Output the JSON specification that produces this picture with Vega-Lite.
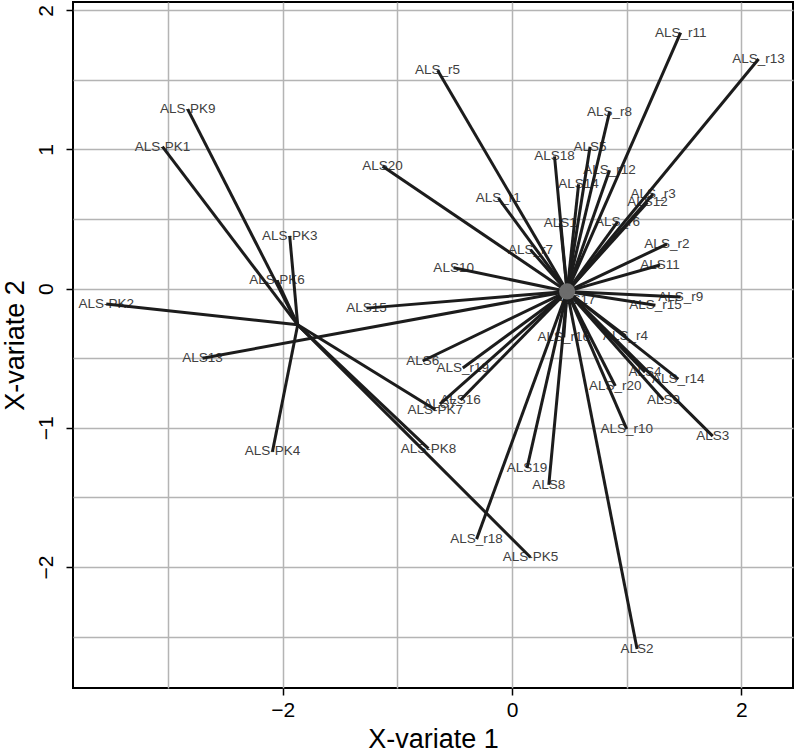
{
  "$schema": "https://vega.github.io/schema/vega-lite/v6.json",
  "width": 720,
  "height": 686,
  "autosize": {"type": "none"},
  "padding": {"left": 73, "top": 2, "right": 3, "bottom": 66},
  "background": "white",
  "config": {
    "view": {"stroke": "black", "strokeWidth": 2},
    "font": "Liberation Sans",
    "axis": {"domain": false, "tickColor": "black", "tickWidth": 1.5, "tickSize": 7, "labelColor": "black", "titleColor": "black", "titleFontWeight": "normal", "gridColor": "#b4b4b4", "gridWidth": 1.5, "labelFont": "Liberation Sans", "titleFont": "Liberation Sans"}
  },
  "datasets": {
    "vars": [
      {"label": "ALS-PK9", "x": -2.83, "y": 1.29, "cx": -1.87, "cy": -0.26},
      {"label": "ALS-PK1", "x": -3.05, "y": 1.02, "cx": -1.87, "cy": -0.26},
      {"label": "ALS-PK3", "x": -1.94, "y": 0.38, "cx": -1.87, "cy": -0.26},
      {"label": "ALS-PK6", "x": -2.05, "y": 0.06, "cx": -1.87, "cy": -0.26},
      {"label": "ALS-PK2", "x": -3.54, "y": -0.11, "cx": -1.87, "cy": -0.26},
      {"label": "ALS-PK4", "x": -2.09, "y": -1.17, "cx": -1.87, "cy": -0.26},
      {"label": "ALS-PK7", "x": -0.67, "y": -0.87, "cx": -1.87, "cy": -0.26},
      {"label": "ALS-PK8", "x": -0.73, "y": -1.15, "cx": -1.87, "cy": -0.26},
      {"label": "ALS-PK5", "x": 0.16, "y": -1.93, "cx": -1.87, "cy": -0.26},
      {"label": "ALS_r11", "x": 1.47, "y": 1.84, "cx": 0.48, "cy": -0.02},
      {"label": "ALS_r13", "x": 2.15, "y": 1.65, "cx": 0.48, "cy": -0.02},
      {"label": "ALS_r5", "x": -0.65, "y": 1.57, "cx": 0.48, "cy": -0.02},
      {"label": "ALS_r8", "x": 0.85, "y": 1.27, "cx": 0.48, "cy": -0.02},
      {"label": "ALS18", "x": 0.37, "y": 0.95, "cx": 0.48, "cy": -0.02},
      {"label": "ALS5", "x": 0.68, "y": 1.02, "cx": 0.48, "cy": -0.02},
      {"label": "ALS_r12", "x": 0.85, "y": 0.85, "cx": 0.48, "cy": -0.02},
      {"label": "ALS14", "x": 0.58, "y": 0.75, "cx": 0.48, "cy": -0.02},
      {"label": "ALS_r3", "x": 1.23, "y": 0.68, "cx": 0.48, "cy": -0.02},
      {"label": "ALS12", "x": 1.18, "y": 0.62, "cx": 0.48, "cy": -0.02},
      {"label": "ALS_r1", "x": -0.12, "y": 0.65, "cx": 0.48, "cy": -0.02},
      {"label": "ALS20", "x": -1.13, "y": 0.88, "cx": 0.48, "cy": -0.02},
      {"label": "ALS1", "x": 0.42, "y": 0.47, "cx": 0.48, "cy": -0.02},
      {"label": "ALS_r6", "x": 0.92, "y": 0.48, "cx": 0.48, "cy": -0.02},
      {"label": "ALS_r7", "x": 0.16, "y": 0.28, "cx": 0.48, "cy": -0.02},
      {"label": "ALS10", "x": -0.51, "y": 0.15, "cx": 0.48, "cy": -0.02},
      {"label": "ALS_r2", "x": 1.35, "y": 0.32, "cx": 0.48, "cy": -0.02},
      {"label": "ALS11", "x": 1.29, "y": 0.17, "cx": 0.48, "cy": -0.02},
      {"label": "ALS_r9", "x": 1.47, "y": -0.06, "cx": 0.48, "cy": -0.02},
      {"label": "ALS_r15", "x": 1.25, "y": -0.12, "cx": 0.48, "cy": -0.02},
      {"label": "ALS17", "x": 0.55, "y": -0.08, "cx": 0.48, "cy": -0.02},
      {"label": "ALS_r4", "x": 0.99, "y": -0.34, "cx": 0.48, "cy": -0.02},
      {"label": "ALS_r16", "x": 0.45, "y": -0.35, "cx": 0.48, "cy": -0.02},
      {"label": "ALS6", "x": -0.78, "y": -0.52, "cx": 0.48, "cy": -0.02},
      {"label": "ALS_r19", "x": -0.43, "y": -0.57, "cx": 0.48, "cy": -0.02},
      {"label": "ALS7", "x": -0.63, "y": -0.83, "cx": 0.48, "cy": -0.02},
      {"label": "ALS16", "x": -0.45, "y": -0.8, "cx": 0.48, "cy": -0.02},
      {"label": "ALS4", "x": 1.16, "y": -0.6, "cx": 0.48, "cy": -0.02},
      {"label": "ALS_r14", "x": 1.45, "y": -0.65, "cx": 0.48, "cy": -0.02},
      {"label": "ALS_r20", "x": 0.9, "y": -0.7, "cx": 0.48, "cy": -0.02},
      {"label": "ALS9", "x": 1.32, "y": -0.8, "cx": 0.48, "cy": -0.02},
      {"label": "ALS_r10", "x": 1.0, "y": -1.01, "cx": 0.48, "cy": -0.02},
      {"label": "ALS3", "x": 1.75, "y": -1.06, "cx": 0.48, "cy": -0.02},
      {"label": "ALS19", "x": 0.13, "y": -1.29, "cx": 0.48, "cy": -0.02},
      {"label": "ALS8", "x": 0.32, "y": -1.41, "cx": 0.48, "cy": -0.02},
      {"label": "ALS_r18", "x": -0.31, "y": -1.8, "cx": 0.48, "cy": -0.02},
      {"label": "ALS2", "x": 1.09, "y": -2.59, "cx": 0.48, "cy": -0.02},
      {"label": "ALS13", "x": -2.7, "y": -0.5, "cx": 0.48, "cy": -0.02},
      {"label": "ALS15", "x": -1.27, "y": -0.14, "cx": 0.48, "cy": -0.02}
    ],
    "centres": [
      {"x": 0.48, "y": -0.02}
    ]
  },
  "data": {"name": "vars"},
  "encoding": {
    "x": {
      "field": "x", "type": "quantitative",
      "scale": {"domain": [-3.83, 2.45], "nice": false, "zero": false},
      "axis": {
        "title": "X-variate 1", "titleFontSize": 27, "titlePadding": 6,
        "values": [-3, -2, -1, 0, 1, 2],
        "labelExpr": "datum.value % 2 == 0 ? format(datum.value, 'd') : ''",
        "tickOpacity": {"condition": {"test": "datum.value % 2 != 0", "value": 0}, "value": 1},
        "labelFontSize": 21, "labelPadding": 4, "grid": true
      }
    },
    "y": {
      "field": "y", "type": "quantitative",
      "scale": {"domain": [-2.87, 2.06], "nice": false, "zero": false},
      "axis": {
        "title": "X-variate 2", "titleFontSize": 27, "titlePadding": 6,
        "values": [-2.5, -2, -1.5, -1, -0.5, 0, 0.5, 1, 1.5, 2],
        "labelExpr": "datum.value % 1 == 0 ? format(datum.value, 'd') : ''",
        "tickOpacity": {"condition": {"test": "datum.value % 1 != 0", "value": 0}, "value": 1},
        "labelAngle": -90, "labelAlign": "center", "labelBaseline": "bottom",
        "labelFontSize": 21, "labelPadding": 10, "grid": true
      }
    }
  },
  "layer": [
    {
      "mark": {"type": "text", "fontSize": 13.5, "color": "#404040", "align": "center", "baseline": "middle"},
      "encoding": {"text": {"field": "label"}}
    },
    {
      "mark": {"type": "rule", "color": "#1c1c1c", "strokeWidth": 3},
      "encoding": {"x2": {"field": "cx"}, "y2": {"field": "cy"}}
    },
    {
      "data": {"name": "centres"},
      "mark": {"type": "point", "filled": true, "color": "#7a7a7a", "opacity": 0.85, "size": 260},
      "encoding": {}
    }
  ]
}
